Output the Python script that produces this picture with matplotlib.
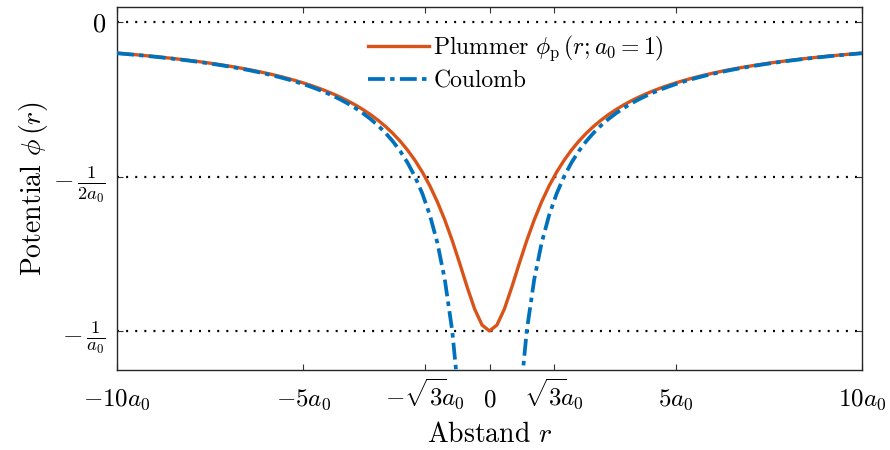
import numpy as np
import matplotlib
matplotlib.use("Agg")
import matplotlib.pyplot as plt

# Plummer vs. Coulomb potential, a0 = 1
a0 = 1.0
r = np.linspace(-10, 10, 101)

xtick_pos = [-10, -5, -np.sqrt(3), 0, np.sqrt(3), 5, 10]
xtick_lab = [r"$-10a_0$", r"$-5a_0$", r"$-\sqrt{3}\!a_0$", r"$0$",
             r"$\sqrt{3}\!a_0$", r"$5a_0$", r"$10a_0$"]
ytick_pos = [-1.0, -0.5, 0.0]
ytick_lab = [r"$-\,\frac{1}{a_0}$", r"$-\,\frac{1}{2a_0}$", r"$0$"]

plt.rcParams["font.family"] = "serif"
plt.rcParams["font.serif"] = ["cmr10"]
plt.rcParams["mathtext.fontset"] = "cm"
plt.rcParams["axes.unicode_minus"] = False

phi_p = -1.0 / np.sqrt(r**2 + a0**2)
with np.errstate(divide="ignore"):
    phi_c = -1.0 / np.abs(r)

fig = plt.figure(figsize=(8.9, 4.5), dpi=100)
ax = fig.add_axes([0.1315, 0.178, 0.837, 0.8065])

for y in ytick_pos:
    ax.axhline(y, color="black", lw=1.6, dashes=(0.9, 3.2), zorder=1)

ax.plot(r, phi_p, color="#D95319", lw=2.4,
        label=r"Plummer $\phi_{\mathrm{p}}\,(r; a_0 = 1)$", zorder=3)
ax.plot(r, phi_c, color="#0072BD", lw=2.7, dashes=(4.5, 1.4, 1.2, 1.4),
        label="Coulomb", zorder=4)

ax.set_xlim(-10, 10)
ax.set_ylim(-1.126, 0.05)
ax.set_xticks(xtick_pos)
ax.set_xticklabels(xtick_lab, fontsize=18)
ax.set_yticks(ytick_pos)
ax.set_yticklabels(ytick_lab, fontsize=19)
ax.tick_params(direction="in", top=True, right=True, length=4,
               width=0.8, color="#333333")
ax.tick_params(axis="x", pad=26)
ax.tick_params(axis="y", pad=8)
# keep all x labels on a common baseline (sqrt labels are taller)
for lab in ax.get_xticklabels():
    lab.set_verticalalignment("baseline")
for s in ax.spines.values():
    s.set_linewidth(1.0)
    s.set_color("#262626")

ax.set_xlabel(r"Abstand $r$", fontsize=20, labelpad=7)
ax.set_ylabel(r"Potential $\phi\,(r)$", fontsize=20, labelpad=2)

ax.legend(loc="upper left", bbox_to_anchor=(0.309, 0.985), frameon=False,
          fontsize=17, handlelength=2.55, handletextpad=0.2, labelspacing=0.3)

fig.savefig("out.png", dpi=100)
